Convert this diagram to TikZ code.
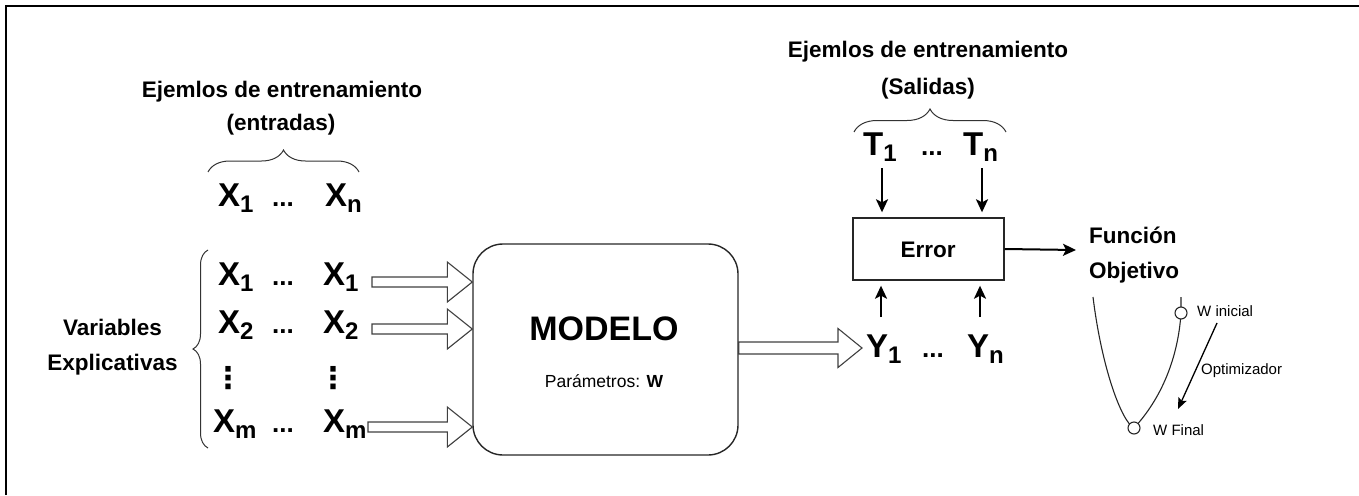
\documentclass[tikz,border=0pt]{standalone}
\usepackage{fontspec}
\setmainfont{Liberation Sans}
\newfontfamily\dejavu{DejaVu Sans}
\usetikzlibrary{arrows.meta,decorations.pathreplacing,calc}
\newcommand\fs[1]{\fontsize{#1}{#1}\selectfont}
\newcommand\vsub[2]{#1\raisebox{-6pt}{\fs{24}#2}}
\newcommand\ddd{{\fs{26}...}}
\newcommand\hollowarrow[5]{%
  \draw[hollowarr] let \p1=(#1), \p2=(#2) in
   (\x1,\y1+#3) -- (\x2-#5,\y1+#3) -- (\x2-#5,\y1+#4) -- (\x2,\y1)
   -- (\x2-#5,\y1-#4) -- (\x2-#5,\y1-#3) -- (\x1,\y1-#3) -- cycle;}
\begin{document}
\begin{tikzpicture}[x=1pt,y=-1pt,
  bold/.style={font=\fs{22.5}\bfseries, inner sep=0pt},
  var/.style={font=\fs{33}\bfseries, inner sep=0pt, anchor=base west},
  small/.style={font=\fs{15}, inner sep=0pt},
  box/.style={draw=black!85, line width=1.4pt},
  hollowarr/.style={draw=black!75, line width=1.1pt, fill=white},
  arr/.style={line width=2pt, -{Stealth[length=13pt,width=12pt,inset=3pt]}},
  thinarr/.style={line width=1.3pt, -{Stealth[length=11pt,width=9pt,inset=2pt]}},
  brc/.style={draw=black!80, line width=1pt, decorate},
  curve/.style={line width=1.1pt, draw=black!85},
  dot/.style={circle, draw=black!85, line width=1.1pt, fill=white, minimum size=12pt, inner sep=0pt},
  vdot/.style={font=\fs{30}\bfseries\dejavu, inner sep=0pt}
]
\useasboundingbox (0,0) rectangle (1359,495);
\draw[line width=2pt] (6,495) -- (6,6) -- (1359,6);

% left titles
\node[bold, anchor=base] (tin1) at (282,97) {Ejemlos de entrenamiento};
\node[bold, anchor=base] (tin2) at (281,130) {(entradas)};
\draw[brc, decoration={brace, amplitude=22pt}] (208,172) -- (359,172);
\node[var] (xn) at (218,206) {\makebox[54pt][l]{\vsub{X}{1}}\makebox[53pt][l]{\ddd}\vsub{X}{n}};

% variables
\node[var] (r1) at (218,285) {\makebox[54pt][l]{\vsub{X}{1}}\makebox[51pt][l]{\ddd}\vsub{X}{1}};
\node[var] (r2) at (218,333) {\makebox[54pt][l]{\vsub{X}{2}}\makebox[51pt][l]{\ddd}\vsub{X}{2}};
\node[vdot] (vd1) at (228,378) {⋮};
\node[vdot] (vd2) at (333,378) {⋮};
\node[var] (rm) at (213,432) {\makebox[59pt][l]{\vsub{X}{m}}\makebox[51pt][l]{\ddd}\vsub{X}{m}};
\draw[brc, decoration={brace, amplitude=15pt}] (208,448) -- (208,250);
\node[bold, anchor=base] (ve1) at (112.5,335) {Variables};
\node[bold, anchor=base] (ve2) at (112.5,370) {Explicativas};

% model
\node[box, rounded corners=30pt, minimum width=265pt, minimum height=211pt] (model) at (605.5,349.5) {};
\node[font=\fs{34}\bfseries, inner sep=0pt, anchor=base] (mt) at (604,340) {MODELO};
\node[font=\fs{17.5}, inner sep=0pt, anchor=base] (mp) at (604,387) {Parámetros: \textbf{W}};

\coordinate (a1) at (372,282);
\coordinate (a2) at (372,329);
\coordinate (am) at (368,427);
\hollowarrow{a1}{model.west |- a1}{5pt}{20pt}{25pt}
\hollowarrow{a2}{model.west |- a2}{5pt}{20pt}{25pt}
\hollowarrow{am}{model.west |- am}{5pt}{20pt}{25pt}

\coordinate (yin) at (862,348);
\hollowarrow{model.east |- yin}{yin}{6pt}{19.5pt}{24pt}

% outputs
\node[var] (yrow) at (866,357) {\makebox[56pt][l]{\vsub{Y}{1}}\makebox[45pt][l]{\ddd}\vsub{Y}{n}};
\node[var] (trow) at (863,155) {\makebox[58pt][l]{\vsub{T}{1}}\makebox[42pt][l]{\ddd}\vsub{T}{n}};
\draw[brc, decoration={brace, amplitude=23pt}] (854,132) -- (1006,132);
\node[bold, anchor=base] (tout1) at (928,57) {Ejemlos de entrenamiento};
\node[bold, anchor=base] (tout2) at (928,94) {(Salidas)};

\node[box, minimum width=151pt, minimum height=62pt] (err) at (928.5,249) {};
\node[bold, anchor=base] (errt) at (928,257) {Error};

\coordinate (t1) at (882,168);
\coordinate (tn) at (982,168);
\coordinate (y1) at (881,317);
\coordinate (yn) at (980,317);
\draw[arr, shorten >=5pt] (t1) -- (t1 |- err.north);
\draw[arr, shorten >=5pt] (tn) -- (tn |- err.north);
\draw[arr, shorten >=5pt] (y1) -- (y1 |- err.south);
\draw[arr, shorten >=5pt] (yn) -- (yn |- err.south);

\coordinate (fo) at (1076,250);
\draw[arr] (err.east) -- (fo);
\node[bold, anchor=base west] (fun1) at (1089,243) {Función};
\node[bold, anchor=base west] (fun2) at (1089,278) {Objetivo};

% objective curve
\coordinate (ctop) at (1093,297);
\coordinate (rtop) at (1181,297);
\coordinate (wf) at (1134,428);
\coordinate (wi) at (1181,313);
\draw[curve] (ctop) .. controls (1102,370) and (1122,422) .. (wf)
  .. controls (1160,400) and (1178,360) .. (wi) -- (rtop);
\node[dot] (wfin) at (wf) {};
\node[dot] (wini) at (wi) {};
\node[small, anchor=west] (wit) at (1197,311) {W inicial};
\node[small, anchor=west] (wft) at (1153,430) {W Final};
\node[small, anchor=west] (opt) at (1201,371) {Optimizador};
\coordinate (o1) at (1217,323);
\coordinate (o2) at (1178,409);
\draw[thinarr] (o1) -- (o2);
\end{tikzpicture}
\end{document}
